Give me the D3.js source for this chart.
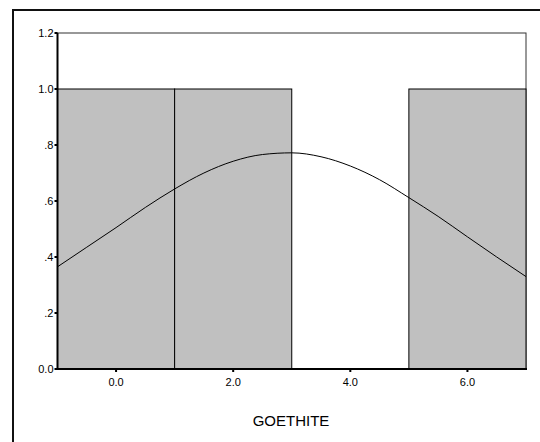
<!DOCTYPE html>
<html>
<head>
<meta charset="utf-8">
<script src="https://cdn.jsdelivr.net/npm/d3@7"></script>
<style>
  body { margin: 0; background: #fff; }
  svg { display: block; }
</style>
</head>
<body>
<svg width="540" height="442"></svg>
<script>
// histogram bins (edges) and counts
const bin_lo = [-1, 1, 3, 5],
    bin_hi = [1, 3, 5, 7],
    counts = [1, 1, 0, 1]

// fitted normal curve
const curve_x = [-1, -0.5, 0, 0.5, 1, 1.5, 2, 2.5, 3, 3.5, 4, 4.5, 5, 5.5, 6, 6.5, 7],
    curve_y = [0.365, 0.435, 0.505, 0.577, 0.643, 0.70, 0.742, 0.766, 0.772, 0.758, 0.725, 0.676, 0.612, 0.545, 0.472, 0.400, 0.330]

const x_ticks = [0, 2, 4, 6],
    y_ticks = [0, 0.2, 0.4, 0.6, 0.8, 1.0, 1.2],
    x_title = 'GOETHITE'

const svg = d3.select('svg'),
    plot_left = 57.5, plot_right = 526, plot_top = 33, plot_bottom = 369

const x = d3.scaleLinear().domain([-1, 7]).range([plot_left, plot_right]),
    y = d3.scaleLinear().domain([0, 1.2]).range([plot_bottom, plot_top])

const yfmt = (d) => d === 0 ? '0.0' : (d >= 1 ? d.toFixed(1) : d.toFixed(1).replace(/^0/, ''))

// outer frame
svg.append('rect')
    .attr('x', 13).attr('y', 10)
    .attr('width', 560).attr('height', 460)
    .style('fill', 'none')
    .style('stroke', '#111')
    .style('stroke-width', 2)

// plot box
svg.append('rect')
    .attr('x', plot_left).attr('y', plot_top)
    .attr('width', plot_right - plot_left).attr('height', plot_bottom - plot_top)
    .style('fill', 'white')
    .style('stroke', '#333')
    .style('stroke-width', 1)

// bars
const bars = counts.map((c, i) => ({ lo: bin_lo[i], hi: bin_hi[i], c: c }))
svg.selectAll('.bar')
    .data(bars.filter((d) => d.c > 0))
    .enter().append('rect')
    .attr('x', (d) => x(d.lo))
    .attr('y', (d) => y(d.c))
    .attr('width', (d) => x(d.hi) - x(d.lo))
    .attr('height', (d) => y(0) - y(d.c))
    .style('fill', '#c0c0c0')
    .style('stroke', 'black')
    .style('stroke-width', 1)

// normal curve
const line = d3.line()
    .x((d, i) => x(curve_x[i]))
    .y((d) => y(d))
    .curve(d3.curveMonotoneX)
svg.append('path')
    .attr('d', line(curve_y))
    .style('fill', 'none')
    .style('stroke', 'black')
    .style('stroke-width', 1)

// axes lines
svg.append('line')
    .attr('x1', plot_left).attr('x2', plot_left).attr('y1', plot_top).attr('y2', plot_bottom + 1)
    .style('stroke', 'black').style('stroke-width', 2)
svg.append('line')
    .attr('x1', plot_left).attr('x2', plot_right + 1).attr('y1', plot_bottom).attr('y2', plot_bottom)
    .style('stroke', 'black').style('stroke-width', 2)

// y ticks
svg.selectAll('.ytick')
    .data(y_ticks)
    .enter().append('rect')
    .attr('x', plot_left - 3).attr('y', (d) => y(d) - 1)
    .attr('width', 3).attr('height', 2)
    .style('fill', 'black')
svg.selectAll('.ylab')
    .data(y_ticks)
    .enter().append('text')
    .attr('x', plot_left - 4).attr('y', (d) => y(d) + 4)
    .text(yfmt)
    .style('text-anchor', 'end')
    .style('font-family', 'Liberation Sans, Arial, sans-serif')
    .style('font-size', '11px')

// x ticks
svg.selectAll('.xtick')
    .data(x_ticks)
    .enter().append('rect')
    .attr('x', (d) => x(d) - 1).attr('y', plot_bottom)
    .attr('width', 2).attr('height', 3)
    .style('fill', 'black')
svg.selectAll('.xlab')
    .data(x_ticks)
    .enter().append('text')
    .attr('x', (d) => x(d)).attr('y', plot_bottom + 17)
    .text((d) => d.toFixed(1))
    .style('text-anchor', 'middle')
    .style('font-family', 'Liberation Sans, Arial, sans-serif')
    .style('font-size', '11px')

svg.append('text')
    .attr('x', 291).attr('y', 426)
    .text(x_title)
    .style('text-anchor', 'middle')
    .style('font-family', 'Liberation Sans, Arial, sans-serif')
    .style('font-size', '15px')
</script>
</body>
</html>
